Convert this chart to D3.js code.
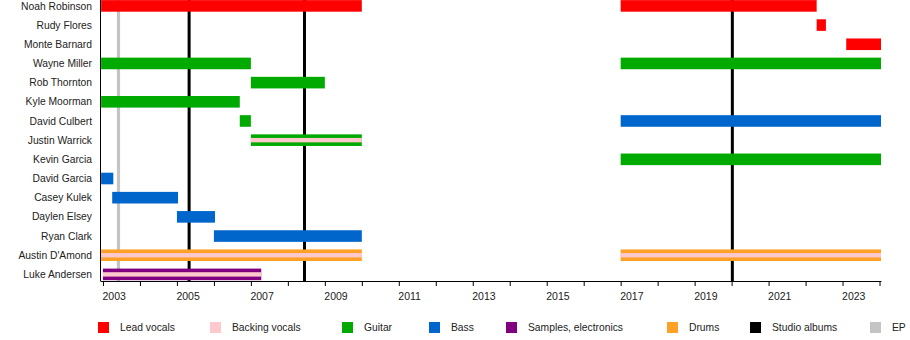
<!DOCTYPE html>
<html>
<head>
<meta charset="utf-8">
<script src="https://cdn.jsdelivr.net/npm/d3@7"></script>
<style>
  html, body { margin: 0; padding: 0; background: #fff; }
  svg { display: block; font-family: "Liberation Sans", Arial, sans-serif; }
</style>
</head>
<body>
<svg id="chart" width="910" height="340"></svg>
<script>
// ---- data ----
const members = [
  "Noah Robinson", "Rudy Flores", "Monte Barnard", "Wayne Miller", "Rob Thornton",
  "Kyle Moorman", "David Culbert", "Justin Warrick", "Kevin Garcia", "David Garcia",
  "Casey Kulek", "Daylen Elsey", "Ryan Clark", "Austin D'Amond", "Luke Andersen"
];
const roles = ["Lead vocals", "Backing vocals", "Guitar", "Bass", "Samples, electronics", "Drums"];
const timelineStart = 2002.92;
const timelineEnd = 2024.04;   // "present"
// [member, main role, from, to, secondary role]
const periods = [
  ["Noah Robinson", "Lead vocals", 2002.95, 2010.0, null],
  ["Noah Robinson", "Lead vocals", 2017.0, 2022.3, null],
  ["Rudy Flores", "Lead vocals", 2022.3, 2022.55, null],
  ["Monte Barnard", "Lead vocals", 2023.1, timelineEnd, null],
  ["Wayne Miller", "Guitar", 2002.95, 2007.0, null],
  ["Wayne Miller", "Guitar", 2017.0, timelineEnd, null],
  ["Rob Thornton", "Guitar", 2007.0, 2009.0, null],
  ["Kyle Moorman", "Guitar", 2002.95, 2006.7, null],
  ["David Culbert", "Guitar", 2006.7, 2007.0, null],
  ["David Culbert", "Bass", 2017.0, timelineEnd, null],
  ["Justin Warrick", "Guitar", 2007.0, 2010.0, "Backing vocals"],
  ["Kevin Garcia", "Guitar", 2017.0, timelineEnd, null],
  ["David Garcia", "Bass", 2002.95, 2003.28, null],
  ["Casey Kulek", "Bass", 2003.25, 2005.03, null],
  ["Daylen Elsey", "Bass", 2005.0, 2006.03, null],
  ["Ryan Clark", "Bass", 2006.0, 2010.0, null],
  ["Austin D'Amond", "Drums", 2002.95, 2010.0, "Backing vocals"],
  ["Austin D'Amond", "Drums", 2017.0, timelineEnd, "Backing vocals"],
  ["Luke Andersen", "Samples, electronics", 2003.0, 2007.28, "Backing vocals"]
];
const studioAlbums = [2005.33, 2008.45, 2020.02];
const eps = [2003.42];
const tickYears = d3.range(2003, 2025);
const legendItems = ["Lead vocals", "Backing vocals", "Guitar", "Bass", "Samples, electronics", "Drums", "Studio albums", "EP"];

// ---- styles ----
const colors = {
  "Lead vocals": "#ff0000",
  "Backing vocals": "#ffc8cc",
  "Guitar": "#00aa00",
  "Bass": "#0066cc",
  "Samples, electronics": "#800080",
  "Drums": "#ffa126",
  "Studio albums": "#000000",
  "EP": "#c4c4c4"
};
const legendX = [98, 210, 342, 429, 506, 667, 750, 870];

const svg = d3.select("#chart");
const x = d3.scaleLinear().domain([timelineStart, timelineEnd]).range([100, 881]);
const y = d3.scalePoint().domain(members).range([5.9, 274.4]);
const barH = 11.6, innerH = 4.4;
const axisY = 281;

// vertical event lines (behind bars)
svg.append("g").selectAll("line.ep").data(eps).join("line")
  .attr("x1", d => x(d)).attr("x2", d => x(d))
  .attr("y1", 0).attr("y2", axisY)
  .attr("stroke", colors["EP"]).attr("stroke-width", 3.2);
svg.append("g").selectAll("line.al").data(studioAlbums).join("line")
  .attr("x1", d => x(d)).attr("x2", d => x(d))
  .attr("y1", 0).attr("y2", axisY)
  .attr("stroke", colors["Studio albums"]).attr("stroke-width", 3);

// bars
const bars = svg.append("g");
bars.selectAll("rect.main").data(periods).join("rect")
  .attr("x", d => x(d[2])).attr("width", d => x(d[3]) - x(d[2]))
  .attr("y", d => y(d[0]) - barH / 2).attr("height", barH)
  .attr("fill", d => colors[d[1]]);
bars.selectAll("rect.sub").data(periods.filter(d => d[4])).join("rect")
  .attr("x", d => x(d[2])).attr("width", d => x(d[3]) - x(d[2]))
  .attr("y", d => y(d[0]) - innerH / 2).attr("height", innerH)
  .attr("fill", d => colors[d[4]]);

// member labels
svg.append("g").selectAll("text").data(members).join("text")
  .attr("x", 92).attr("y", d => y(d)).attr("dy", "0.35em")
  .attr("text-anchor", "end").attr("font-size", 10.3).attr("fill", "#222")
  .text(d => d);

// left axis line
svg.append("line").attr("x1", 100.5).attr("x2", 100.5).attr("y1", 0).attr("y2", axisY)
  .attr("stroke", "#000").attr("stroke-width", 1);

// bottom axis
const axis = d3.axisBottom(x).tickValues(tickYears).tickSize(5).tickSizeOuter(0).tickPadding(7)
  .tickFormat(d => (d % 2 === 1 ? String(d) : ""));
const ax = svg.append("g").attr("transform", `translate(0,${axisY})`).call(axis);
ax.select(".domain").attr("stroke", "#000");
ax.selectAll(".tick line").attr("stroke", "#000");
ax.selectAll(".tick text").attr("text-anchor", "start").attr("dx", -1)
  .attr("font-size", 10.5).attr("fill", "#222")
  .attr("font-family", "'Liberation Sans', Arial, sans-serif");

// legend
const lg = svg.append("g").selectAll("g").data(legendItems).join("g")
  .attr("transform", (d, i) => `translate(${legendX[i]},322)`);
lg.append("rect").attr("width", 11).attr("height", 11).attr("fill", d => colors[d]);
lg.append("text").attr("x", 22).attr("y", 5.5).attr("dy", "0.35em")
  .attr("font-size", 10.3).attr("fill", "#222").text(d => d);
</script>
</body>
</html>
